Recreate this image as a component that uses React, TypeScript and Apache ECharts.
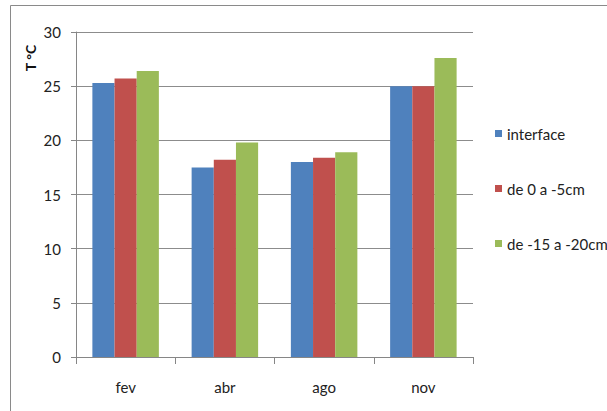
import React, { useEffect, useRef } from "react";
import * as echarts from "echarts";

// Monthly mean temperature by depth
const months = ["fev", "abr", "ago", "nov"];
const interfaceTemp = [25.3, 17.5, 18.0, 25.0];
const depth0to5 = [25.7, 18.2, 18.4, 25.0];
const depth15to20 = [26.4, 19.8, 18.9, 27.6];
const seriesNames = ["interface", "de 0 a -5cm", "de -15 a -20cm"];
const colors = ["#4F81BD", "#C0504D", "#9BBB59"];

const FONT = "Lato, 'Open Sans', sans-serif";

export default function App() {
  const ref = useRef<HTMLDivElement>(null);

  useEffect(() => {
    if (!ref.current) return;
    const chart = echarts.init(ref.current, undefined, { renderer: "svg" });
    const values = [interfaceTemp, depth0to5, depth15to20];
    chart.setOption({
      animation: false,
      backgroundColor: "#ffffff",
      textStyle: { fontFamily: FONT },
      grid: { left: 76, right: 134, top: 32, bottom: 54, containLabel: false },
      legend: {
        orient: "vertical",
        left: 490,
        top: 121,
        itemWidth: 7,
        itemHeight: 7,
        itemGap: 40,
        icon: "rect",
        textStyle: { fontFamily: FONT, fontSize: 15, color: "#222" },
        data: seriesNames,
      },
      xAxis: {
        type: "category",
        data: months,
        axisLine: { lineStyle: { color: "#868686", width: 1 } },
        axisTick: { show: true, length: 7, lineStyle: { color: "#868686" } },
        axisLabel: { fontFamily: FONT, fontSize: 15, color: "#222", margin: 22 },
      },
      yAxis: {
        type: "value",
        min: 0,
        max: 30,
        interval: 5,
        axisLine: { show: true, lineStyle: { color: "#868686", width: 1 } },
        axisTick: { show: true, length: 5, lineStyle: { color: "#868686" } },
        axisLabel: { fontFamily: FONT, fontSize: 15, color: "#222", margin: 15 },
        splitLine: { lineStyle: { color: "#8c8c8c", width: 1 } },
      },
      series: values.map((v, i) => ({
        name: seriesNames[i],
        type: "bar",
        data: v,
        barGap: "0%",
        barCategoryGap: "33%",
        itemStyle: { color: colors[i] },
      })),
      graphic: [
        {
          type: "rect",
          shape: { x: 10.5, y: 5.5, width: 640, height: 440 },
          style: { fill: "none", stroke: "#8a8a8a", lineWidth: 1 },
          silent: true,
        },
        {
          type: "text",
          x: 30,
          y: 58,
          rotation: Math.PI / 2,
          style: {
            text: "T °C",
            font: `bold 14px ${FONT}`,
            fill: "#111",
            align: "center",
            verticalAlign: "middle",
          },
        },
      ],
    });
    return () => chart.dispose();
  }, []);

  return (
    <div
      ref={ref}
      style={{ position: "absolute", left: 0, top: 0, width: 607, height: 411 }}
    />
  );
}
